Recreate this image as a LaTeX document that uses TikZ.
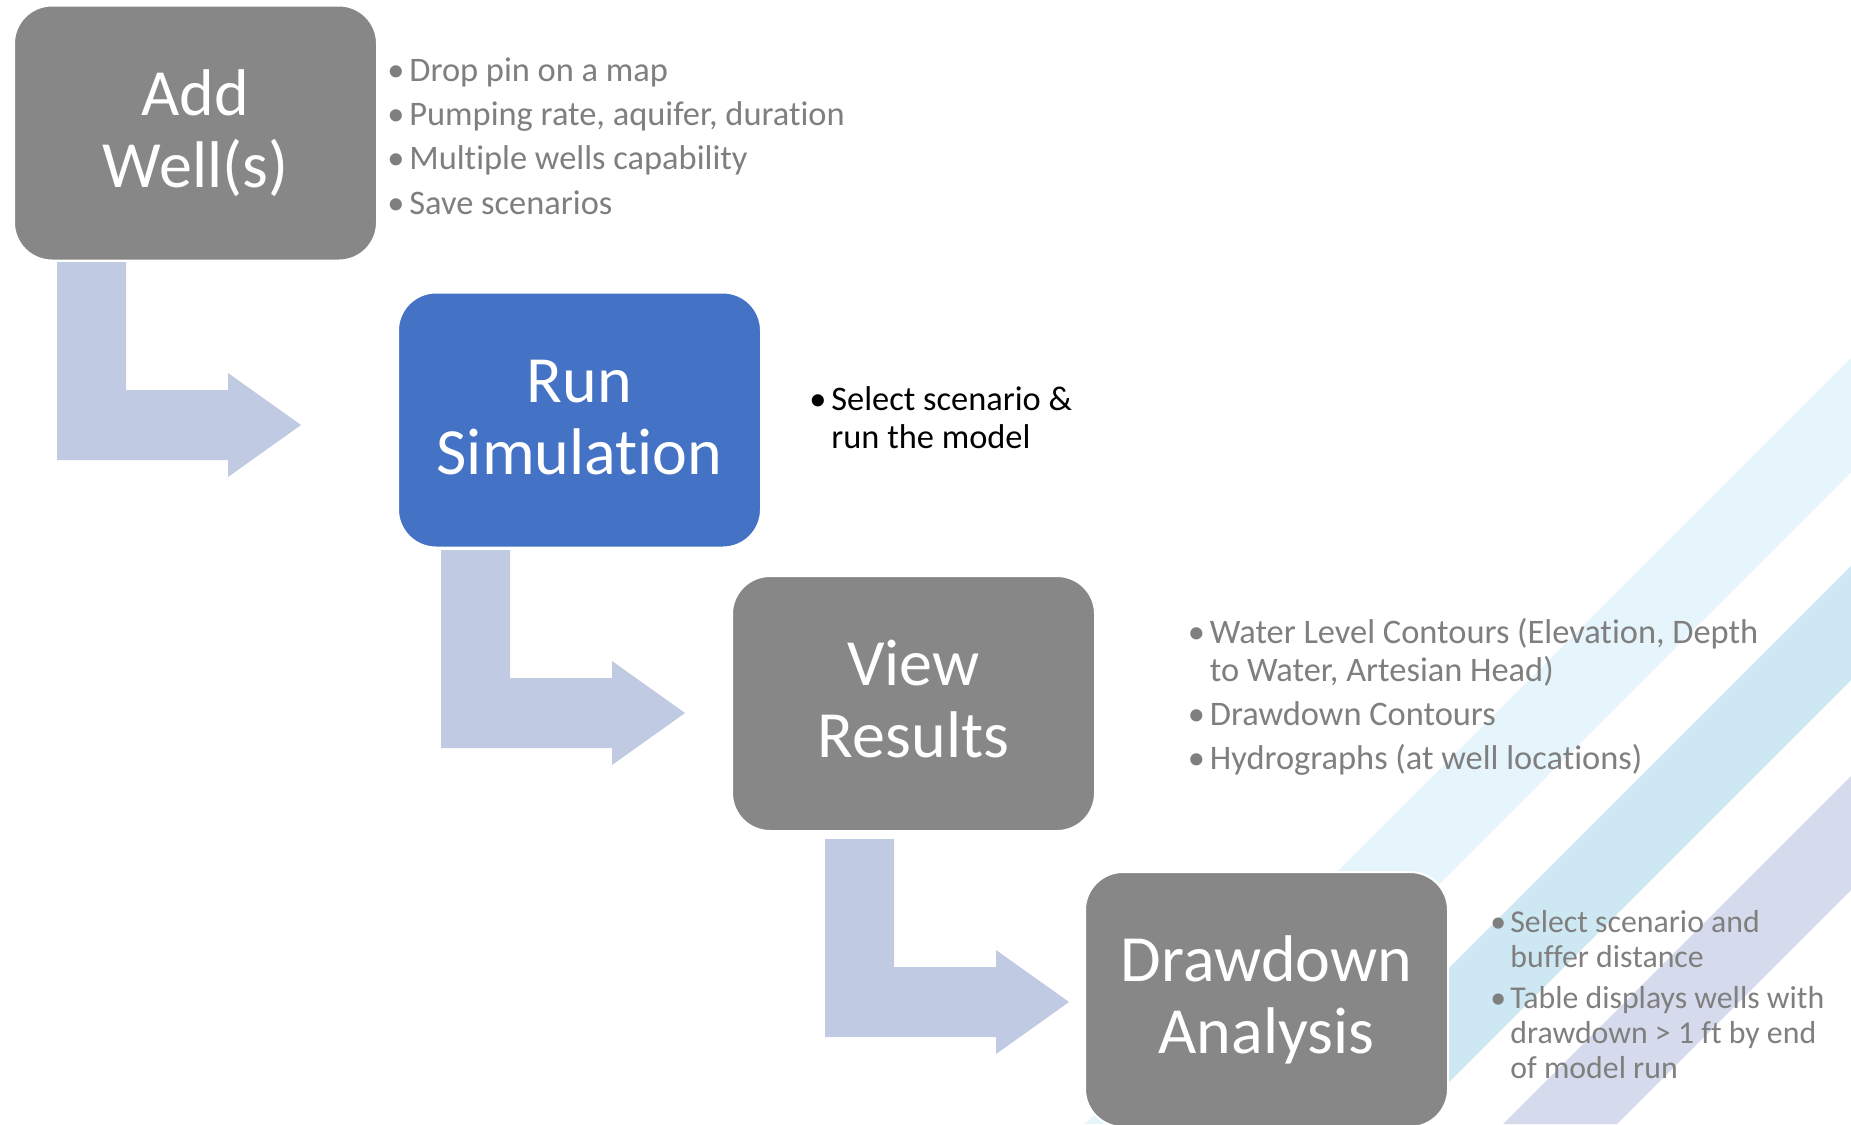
\documentclass[tikz,border=0pt]{standalone}
\usepackage{fontspec}
\setmainfont{Carlito}[Ligatures=NoCommon]

\definecolor{boxgray}{HTML}{878787}
\definecolor{boxblue}{HTML}{4472C4}
\definecolor{arrowfill}{HTML}{C0CAE3}
\definecolor{notegray}{HTML}{7F7F7F}
\definecolor{stripeA}{HTML}{E6F5FC}
\definecolor{stripeB}{HTML}{CDE8F3}
\definecolor{stripeC}{HTML}{D5DBEC}

\tikzset{
  stepbox/.style={rectangle, rounded corners=19pt, minimum width=181.5pt, minimum height=127.5pt,
    draw=white, line width=1pt, fill=boxgray, text=white, align=center, inner sep=0pt,
    font=\fontsize{33}{36}\selectfont},
  note/.style={anchor=base west, inner sep=0pt, text=notegray, font=\fontsize{17.2}{20}\selectfont},
  smallnote/.style={note, font=\fontsize{15.9}{18}\selectfont}
}

% bent block arrow, origin = top left of its stem
\newcommand\bentarrow[1]{\fill[arrowfill, shift={#1}] (0,0) -- (69,0) -- (69,128) -- (171,128)
  -- (171,111) -- (244,163) -- (171,215) -- (171,198) -- (0,198) -- cycle;}
\newcommand\bul{\makebox[11pt][l]{•}}
\newcommand\boxstrut{\rule[-9pt]{0pt}{36pt}}

\begin{document}
\begin{tikzpicture}[x=0.5pt,y=-0.5pt]
\useasboundingbox (0,0) rectangle (1851,1124);
\fill[white] (0,0) rectangle (1851,1124);

% stripes in the corner
\begin{scope}
\clip (0,0) rectangle (1851,1124);
\foreach \s/\c in {2209/stripeA,2417/stripeB,2627/stripeC}
  \fill[\c] (\s,0) -- ({\s+114},0) -- ({\s+114-1124},1124) -- ({\s-1124},1124) -- cycle;
\end{scope}

\foreach \p in {(57,262),(441,550),(825,839)}
  {\bentarrow{\p}}

\node[stepbox] (add) at (195.5,133) {\boxstrut Add\\\boxstrut Well(s)};
\node[stepbox, fill=boxblue] (run) at (579.5,420) {\boxstrut Run\\\boxstrut Simulation};
\node[stepbox] (view) at (913.5,703.5) {\boxstrut View\\\boxstrut Results};
\node[stepbox] (drawdown) at (1266.5,999.5) {\boxstrut Drawdown\\\boxstrut Analysis};

\node[note] (add1) at (387,81) {\bul Drop pin on a map};
\node[note] (add2) at (387,125.3) {\bul Pumping rate, aquifer, duration};
\node[note] (add3) at (387,169.6) {\bul Multiple wells capability};
\node[note] (add4) at (387,214) {\bul Save scenarios};

\node[note, text=black] (run1) at (809,410) {\bul Select scenario \&};
\node[note, text=black] (run2) at (831,448) {run the model};

\node[note] (view1) at (1187.5,643) {\bul Water Level Contours (Elevation, Depth};
\node[note] (view2) at (1209.5,681) {to Water, Artesian Head)};
\node[note] (view3) at (1187.5,725.5) {\bul Drawdown Contours};
\node[note] (view4) at (1187.5,769.5) {\bul Hydrographs (at well locations)};

\node[smallnote] (dd1) at (1490,932) {\makebox[10pt][l]{•}Select scenario and};
\node[smallnote] (dd2) at (1510,967) {buffer distance};
\node[smallnote] (dd3) at (1490,1008) {\makebox[10pt][l]{•}Table displays wells with};
\node[smallnote] (dd4) at (1510,1043) {drawdown > 1 ft by end};
\node[smallnote] (dd5) at (1510,1078) {of model run};
\end{tikzpicture}
\end{document}
